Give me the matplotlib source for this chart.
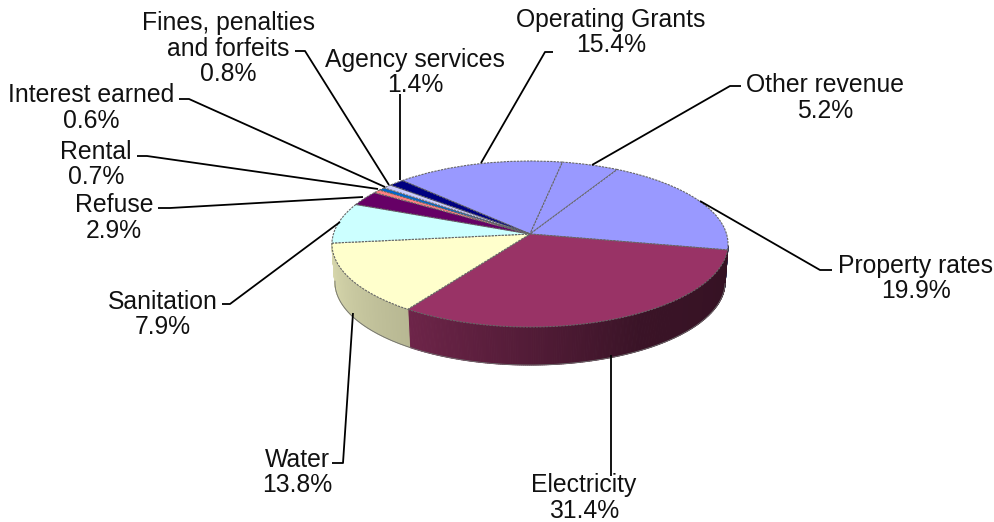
import numpy as np
import matplotlib
matplotlib.use('Agg')
import matplotlib.pyplot as plt
from matplotlib.colors import to_rgb
from matplotlib.transforms import Transform

labels = ['Operating Grants', 'Other revenue', 'Property rates', 'Electricity', 'Water', 'Sanitation',
          'Refuse', 'Rental', 'Interest earned', 'Fines, penalties\nand forfeits', 'Agency services']
shares = [15.4, 5.2, 19.9, 31.4, 13.8, 7.9, 2.9, 0.7, 0.6, 0.8, 1.4]
colors = ['#9999FF', '#9999FF', '#9999FF', '#993366', '#FFFFCC', '#CCFFFF',
          '#660066', '#FF8080', '#0066CC', '#CCCCFF', '#000080']

# label centre (x, y of the first line) and leader line, in figure pixels
label_pos = [(611, 20), (825, 85), (916, 266), (584, 485), (297, 460), (163, 302),
             (114, 205), (96, 152), (91, 95), (228, 23), (415, 60)]
leaders = [
    [(553, 52), (545, 52), (481, 163)],
    [(741, 86), (730, 86), (592, 165)],
    [(832, 270), (820, 270), (700, 201)],
    [(611, 476), (611, 355)],
    [(332, 463), (343, 463), (353, 313)],
    [(222, 304), (230, 304), (340, 222)],
    [(158, 208), (170, 208), (363, 197)],
    [(137, 156), (147, 156), (378, 189)],
    [(179, 99), (189, 99), (385, 187)],
    [(295, 51), (305, 51), (389, 185)],
    [(400, 94), (400, 180)],
]

START = 134.8
LINE_H = 25.5
WALL_FROM, WALL_TO = -173.7, -8


class TiltedDisc(Transform):
    """Maps the unit circle of the pie onto a disc seen in perspective."""
    input_dims = 2
    output_dims = 2

    def __init__(self, cx=530, cy=234, a=196.6, b=81.8, k=0.1205, drop=0, shrink=1.0):
        super().__init__()
        self.cx, self.cy, self.a, self.b, self.k = cx, cy, a, b, k
        self.drop, self.shrink = drop, shrink

    def transform_non_affine(self, values):
        values = np.asarray(values, dtype=float)
        u, v = values[:, 0], values[:, 1]
        w = 1 + self.k * v
        x = self.cx + self.shrink * self.a * u / w
        y = self.cy - self.b * v / w + self.drop
        return np.column_stack([x, y])


fig = plt.figure(figsize=(9.95, 5.22), dpi=100)
ax = fig.add_axes([0, 0, 1, 1])

wedges, _ = ax.pie(shares, colors=colors, startangle=START, counterclock=False, radius=1,
                   wedgeprops=dict(edgecolor='#666666', linewidth=0.8, linestyle=(0, (2, 1))))
ax.set_aspect('auto')
ax.set_xlim(0, 995)
ax.set_ylim(522, 0)
ax.axis('off')

top = TiltedDisc()
bottom = TiltedDisc(drop=38, shrink=0.985)
for wedge in wedges:
    wedge.set_transform(top + ax.transData)
    wedge.set_zorder(3)

# side wall of the disc, shaded strip by strip
shade_angle = [-180, -124, -60, 0]
shade_level = [0.88, 0.72, 0.38, 0.34]
edges = START - np.cumsum([0] + shares) * 3.6
for i in range(len(shares)):
    hi, lo = edges[i], edges[i + 1]
    for shift in (0, -360):
        t1, t2 = max(lo + shift, WALL_FROM), min(hi + shift, WALL_TO)
        if t2 <= t1:
            continue
        steps = np.linspace(t1, t2, int((t2 - t1) / 0.5) + 2)
        for s1, s2 in zip(steps[:-1], steps[1:]):
            ang = np.radians([s1, s2])
            ring = np.column_stack([np.cos(ang), np.sin(ang)])
            quad = np.vstack([top.transform(ring), bottom.transform(ring)[::-1]])
            level = np.interp((s1 + s2) / 2, shade_angle, shade_level)
            shade = tuple(c * level for c in to_rgb(colors[i]))
            ax.fill(quad[:, 0], quad[:, 1], color=shade, linewidth=0.8, zorder=2)

# outline round the bottom of the wall
ang = np.radians(np.linspace(WALL_FROM, WALL_TO, 181))
ring = np.column_stack([np.cos(ang), np.sin(ang)])
rim = bottom.transform(ring)
ax.plot(rim[:, 0], rim[:, 1], color='#707070', lw=0.6, zorder=2)

for path in leaders:
    xs, ys = zip(*path)
    ax.plot(xs, ys, color='black', lw=1.3, zorder=4, solid_capstyle='butt')

font = dict(family='Liberation Sans', fontsize=17.8, ha='center', va='center', color='#111111', zorder=5)
for name, share, (x, y) in zip(labels, shares, label_pos):
    lines = name.split('\n') + ['%.1f%%' % share]
    for n, line in enumerate(lines):
        ax.text(x, y + n * LINE_H, line, **font)

fig.savefig('out.png', dpi=100)
